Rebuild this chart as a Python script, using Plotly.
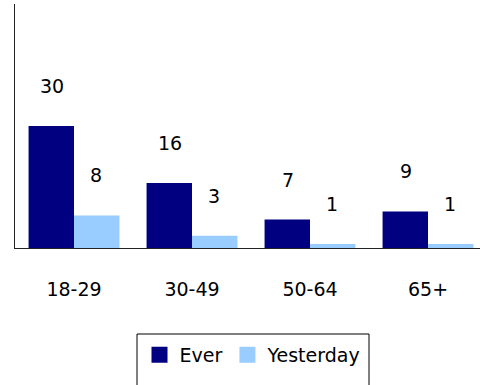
import plotly.graph_objects as go

# Age groups and share (%) for each series
age_groups = ["18-29", "30-49", "50-64", "65+"]
ever = [30, 16, 7, 9]
yesterday = [8, 3, 1, 1]

NAVY = "#000080"
LIGHT = "#99CCFF"
FONT = "DejaVu Sans"

W, H = 480, 385
ML, MR, MT, MB = 15, 0, 4, 137
plot_w = W - ML - MR
plot_h = H - MT - MB
cat_px = 118  # width of one category slot in pixels

fig = go.Figure()
series = (("Ever", ever, NAVY), ("Yesterday", yesterday, LIGHT))
for name, vals, color in series:
    fig.add_trace(go.Bar(name=name, x=age_groups, y=vals, marker_color=color,
                         marker_line_width=0, showlegend=False, legendgroup=name))
# legend entries with larger square swatches
for name, vals, color in series:
    fig.add_trace(go.Scatter(name=name, x=[None], y=[None], mode="markers",
                             marker=dict(symbol="square", size=16, color=color),
                             legendgroup=name, hoverinfo="skip"))

# value labels floating above each bar
for i, cat in enumerate(age_groups):
    for vals, dx in ((ever, -22), (yesterday, 22)):
        fig.add_annotation(x=cat, y=vals[i], text=str(vals[i]), showarrow=False,
                           xshift=dx, yshift=40, yanchor="middle",
                           font=dict(family=FONT, size=19, color="black"))

def px_x(p):
    return (p - ML) / plot_w

def px_y(p):
    return (H - MB - p) / plot_h

# legend frame
fig.add_shape(type="rect", xref="paper", yref="paper",
              x0=px_x(137), x1=px_x(369), y0=px_y(334), y1=px_y(420),
              line=dict(color="black", width=1), fillcolor="rgba(0,0,0,0)")

fig.update_layout(
    width=W, height=H,
    margin=dict(l=ML, r=MR, t=MT, b=MB),
    paper_bgcolor="white", plot_bgcolor="white",
    barmode="group", bargap=0.23, bargroupgap=0,
    font=dict(family=FONT, size=19, color="black"),
    showlegend=True,
    legend=dict(orientation="h", x=px_x(253), xanchor="center",
                y=px_y(355), yanchor="middle", bgcolor="rgba(0,0,0,0)",
                font=dict(family=FONT, size=19), itemwidth=30,
                itemsizing="trace"),
    xaxis=dict(range=[-0.5, -0.5 + plot_w / cat_px], showline=True,
               linecolor="#222", linewidth=1, ticks="", showgrid=False,
               ticklabelstandoff=24, zeroline=False),
    yaxis=dict(range=[0, 60], showline=True, linecolor="#222", linewidth=1,
               showticklabels=False, ticks="", showgrid=False, zeroline=False),
)

fig.write_html("out.html")
